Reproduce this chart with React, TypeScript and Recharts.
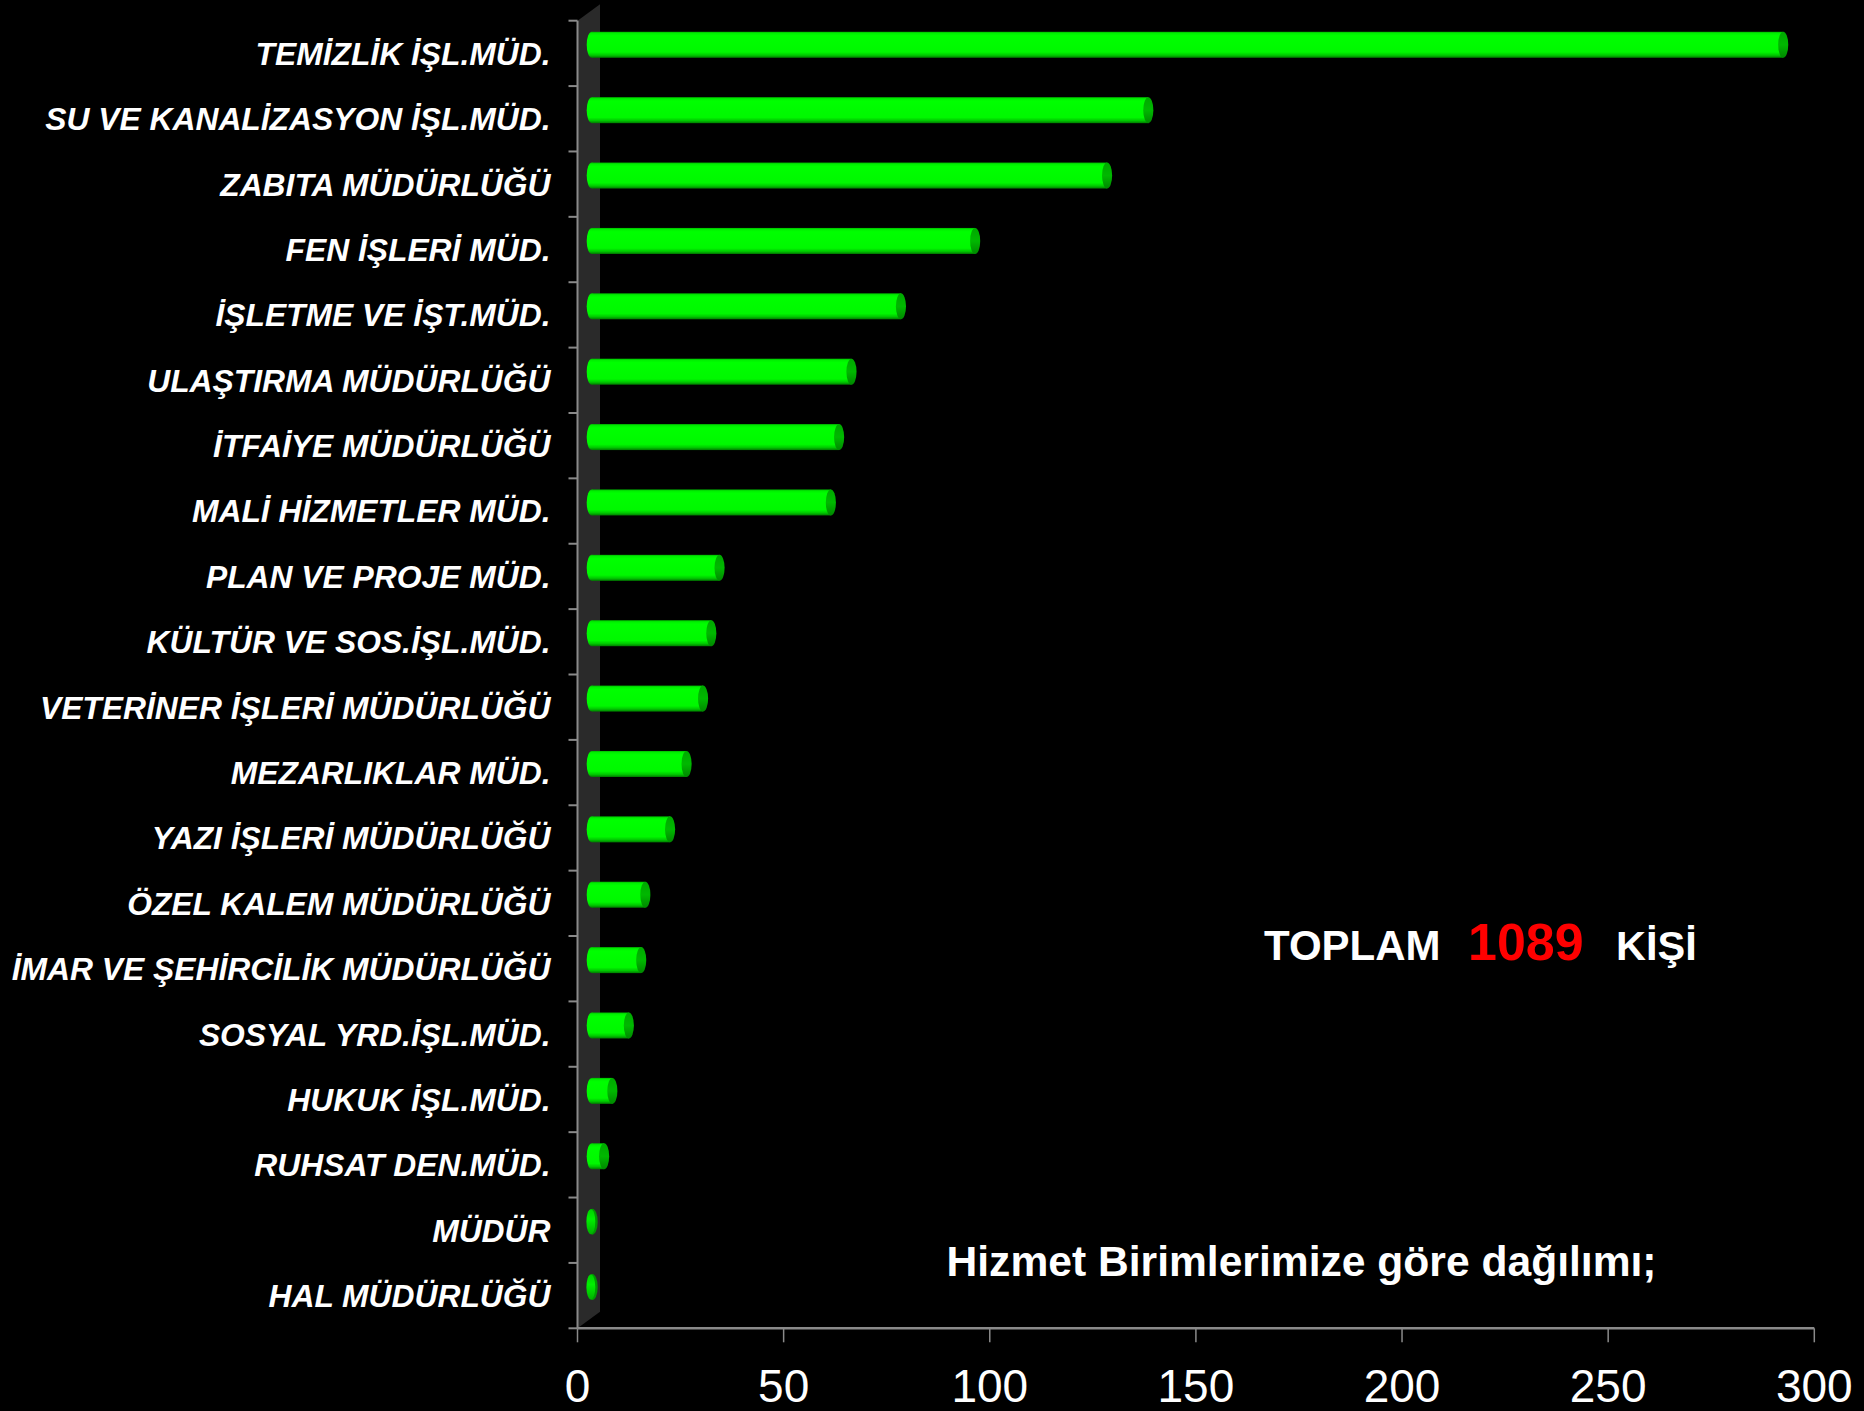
import React from 'react';
import { BarChart, Bar, XAxis, YAxis, ReferenceArea } from 'recharts';

// ---------- data ----------
const categories = [
  'TEMİZLİK İŞL.MÜD.',
  'SU VE KANALİZASYON İŞL.MÜD.',
  'ZABITA MÜDÜRLÜĞÜ',
  'FEN İŞLERİ MÜD.',
  'İŞLETME VE İŞT.MÜD.',
  'ULAŞTIRMA MÜDÜRLÜĞÜ',
  'İTFAİYE MÜDÜRLÜĞÜ',
  'MALİ HİZMETLER MÜD.',
  'PLAN VE PROJE MÜD.',
  'KÜLTÜR VE SOS.İŞL.MÜD.',
  'VETERİNER İŞLERİ MÜDÜRLÜĞÜ',
  'MEZARLIKLAR MÜD.',
  'YAZI İŞLERİ MÜDÜRLÜĞÜ',
  'ÖZEL KALEM MÜDÜRLÜĞÜ',
  'İMAR VE ŞEHİRCİLİK MÜDÜRLÜĞÜ',
  'SOSYAL YRD.İŞL.MÜD.',
  'HUKUK İŞL.MÜD.',
  'RUHSAT DEN.MÜD.',
  'MÜDÜR',
  'HAL MÜDÜRLÜĞÜ',
];
const staffCounts = [289, 135, 125, 93, 75, 63, 60, 58, 31, 29, 27, 23, 19, 13, 12, 9, 5, 3, 0, 0];
const xTicks = [0, 50, 100, 150, 200, 250, 300];
const totalWord = 'TOPLAM';
const totalValue = '1089';
const totalUnit = 'KİŞİ';
const subtitle = 'Hizmet Birimlerimize göre dağılımı;';

const data = categories.map((name, i) => ({ name, value: staffCounts[i] }));

// ---------- layout / style ----------
const W = 1864;
const H = 1411;
const PLOT_LEFT = 577.5;
const PLOT_RIGHT = 1814.3;
const PLOT_TOP = 20.7;
const PLOT_BOTTOM = 1328.3;
const Y_AXIS_W = 560;
const X_AXIS_H = H - PLOT_BOTTOM;
const STEP = (PLOT_BOTTOM - PLOT_TOP) / categories.length;
const AXIS_GRAY = '#8a8a8a';
const Y_TICK_LEN = 9;
const Y_TICK_MARGIN = 18;
const DEPTH_X = 14.25;
const DEPTH_Y = 8.9;
const CAP_RX = 5.05;
const WALL_W = 22.5;
const WALL_RISE = 16.5;
const FONT = '"Liberation Sans", Arial, sans-serif';

function Cylinder(props: any) {
  const { x, y, width, height } = props;
  const cx0 = x + DEPTH_X;
  const cy = y + height / 2 - DEPTH_Y;
  const ry = height / 2;
  const w = Math.max(0, width || 0);
  if (w < 0.5) {
    return (
      <g>
        <ellipse cx={cx0 + 0.6} cy={cy} rx={CAP_RX + 0.3} ry={ry} fill="#009a00" />
        <ellipse cx={cx0 - 0.9} cy={cy} rx={CAP_RX - 0.6} ry={ry - 0.5} fill="url(#cylCapBright)" />
      </g>
    );
  }
  return (
    <g>
      <ellipse cx={cx0} cy={cy} rx={CAP_RX} ry={ry} fill="url(#cylBody)" />
      <rect x={cx0} y={cy - ry} width={w} height={height} fill="url(#cylBody)" />
      <ellipse cx={cx0 + w} cy={cy} rx={CAP_RX} ry={ry} fill="url(#cylCap)" />
    </g>
  );
}

function Wall(props: any) {
  const { x, y, height } = props;
  const pts = `${x},${y} ${x + WALL_W},${y - WALL_RISE} ${x + WALL_W},${y + height - WALL_RISE} ${x},${y + height}`;
  return <polygon points={pts} fill="#2a2a2a" />;
}

function CategoryTick(props: any) {
  const { x, y, payload, index } = props;
  const axisX = x + Y_TICK_MARGIN + Y_TICK_LEN;
  const last = index === categories.length - 1;
  return (
    <g>
      <line x1={axisX - Y_TICK_LEN} x2={axisX} y1={y - STEP / 2} y2={y - STEP / 2} stroke={AXIS_GRAY} strokeWidth={2} />
      {last && (
        <line x1={axisX - Y_TICK_LEN} x2={axisX} y1={y + STEP / 2} y2={y + STEP / 2} stroke={AXIS_GRAY} strokeWidth={2} />
      )}
      <text
        x={x}
        y={y}
        dy="0.36em"
        textAnchor="end"
        fill="#ffffff"
        fontFamily={FONT}
        fontWeight="bold"
        fontStyle="italic"
        fontSize={31.8}
      >
        {payload.value}
      </text>
    </g>
  );
}

export default function App() {
  return (
    <div style={{ position: 'absolute', left: 0, top: 0, width: W, height: H, background: '#000000', overflow: 'hidden' }}>
      <svg width={0} height={0} style={{ position: 'absolute' }}>
        <defs>
          <linearGradient id="cylBody" x1="0" y1="0" x2="0" y2="1">
            <stop offset="0" stopColor="#00b800" />
            <stop offset="0.06" stopColor="#00f000" />
            <stop offset="0.15" stopColor="#00ff00" />
            <stop offset="0.78" stopColor="#00f800" />
            <stop offset="0.9" stopColor="#00c800" />
            <stop offset="1" stopColor="#007a00" />
          </linearGradient>
          <linearGradient id="cylCap" x1="0" y1="0" x2="0" y2="1">
            <stop offset="0" stopColor="#00a800" />
            <stop offset="0.5" stopColor="#00b800" />
            <stop offset="1" stopColor="#008800" />
          </linearGradient>
          <linearGradient id="cylCapBright" x1="0" y1="0" x2="0" y2="1">
            <stop offset="0" stopColor="#00d000" />
            <stop offset="0.4" stopColor="#00f000" />
            <stop offset="1" stopColor="#00b000" />
          </linearGradient>
        </defs>
      </svg>
      <BarChart
        width={W}
        height={H}
        data={data}
        layout="vertical"
        margin={{ top: PLOT_TOP, right: W - PLOT_RIGHT, bottom: 0, left: PLOT_LEFT - Y_AXIS_W }}
        barSize={26}
      >
        <ReferenceArea x1={0} x2={300} ifOverflow="visible" shape={Wall} />
        <XAxis
          type="number"
          domain={[0, 300]}
          ticks={xTicks}
          interval={0}
          height={X_AXIS_H}
          axisLine={{ stroke: AXIS_GRAY, strokeWidth: 2.5 }}
          tickLine={{ stroke: AXIS_GRAY, strokeWidth: 1.5 }}
          tickSize={14}
          tickMargin={26.7}
          tick={{ fill: '#ffffff', fontSize: 46, fontFamily: FONT }}
        />
        <YAxis
          type="category"
          dataKey="name"
          width={Y_AXIS_W}
          interval={0}
          axisLine={{ stroke: AXIS_GRAY, strokeWidth: 2 }}
          tickLine={false}
          tickSize={Y_TICK_LEN}
          tickMargin={Y_TICK_MARGIN}
          tick={CategoryTick}
        />
        <Bar dataKey="value" isAnimationActive={false} shape={Cylinder} fill="#00ff00" />
      </BarChart>
      <svg width={W} height={H} style={{ position: 'absolute', left: 0, top: 0, pointerEvents: 'none' }}>
        <text x={1264} y={960} fill="#ffffff" fontFamily={FONT} fontWeight="bold" fontSize={42}>{totalWord}</text>
        <text x={1468} y={960} fill="#ff0000" fontFamily={FONT} fontWeight="bold" fontSize={52}>{totalValue}</text>
        <text x={1616} y={960} fill="#ffffff" fontFamily={FONT} fontWeight="bold" fontSize={41.5}>{totalUnit}</text>
        <text x={946.5} y={1276} fill="#ffffff" fontFamily={FONT} fontWeight="bold" fontSize={42.6}>{subtitle}</text>
      </svg>
    </div>
  );
}
